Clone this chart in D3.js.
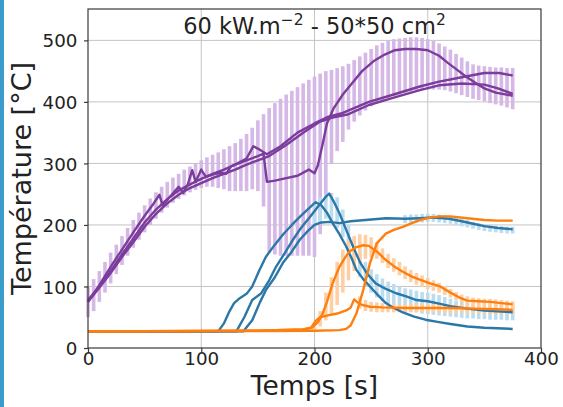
<!DOCTYPE html>
<html>
<head>
<meta charset="utf-8">
<script src="https://cdn.jsdelivr.net/npm/d3@7"></script>
<style>
  body { margin: 0; background: #fff; }
  svg { display: block; font-family: "DejaVu Sans", sans-serif; }
</style>
</head>
<body>
<div id="graph"></div>
<script>
/*--- donnees ---*/

let xTicks = [0, 100, 200, 300, 400]
let yTicks = [0, 100, 200, 300, 400, 500]

// courbes violettes
let p1Time = [0, 10, 20, 30, 40, 50, 58, 63, 66, 72, 80, 84, 88, 92, 95, 100, 104, 110, 118, 122, 126, 132, 140, 146, 152, 158, 170, 185, 200, 211, 225, 248, 270, 293, 310, 330, 350, 363, 375]
let p1Temp = [75, 102, 132, 160, 188, 215, 235, 249, 232, 245, 262, 252, 265, 289, 270, 290, 278, 282, 285, 283, 295, 300, 308, 328, 322, 315, 328, 350, 365, 375, 382, 400, 412, 425, 433, 440, 447, 447, 443]

let p2Time = [0, 10, 20, 30, 40, 50, 60, 70, 80, 90, 100, 110, 120, 130, 140, 150, 155, 158, 165, 175, 185, 195, 200, 203, 207, 211, 217, 225, 233, 242, 252, 262, 271, 280, 290, 300, 310, 318, 326, 334, 342, 350, 360, 375]
let p2Temp = [78, 100, 125, 152, 178, 204, 225, 242, 256, 266, 275, 283, 290, 298, 305, 312, 316, 270, 272, 276, 280, 290, 284, 297, 330, 365, 390, 412, 430, 450, 466, 477, 484, 486, 486, 484, 475, 463, 452, 441, 431, 422, 415, 410]

let p3Time = [0, 10, 20, 30, 40, 50, 60, 70, 80, 90, 100, 110, 120, 130, 140, 150, 160, 175, 190, 205, 215, 230, 248, 270, 293, 310, 330, 350, 362, 375]
let p3Temp = [75, 98, 122, 148, 172, 197, 218, 235, 249, 260, 268, 276, 283, 290, 298, 305, 312, 330, 350, 368, 374, 380, 395, 407, 419, 427, 430, 428, 422, 413]

// courbes bleues
let b1Time = [0, 115, 120, 125, 129, 134, 140, 145, 151, 157, 165, 172, 180, 187, 195, 201, 206, 211, 216, 222, 228, 233, 237, 243, 249, 256, 263, 270, 278, 288, 298, 310, 320, 335, 350, 375]
let b1Temp = [27, 27, 40, 60, 73, 81, 88, 100, 125, 148, 168, 184, 200, 213, 227, 237, 232, 220, 203, 185, 165, 145, 127, 112, 100, 86, 73, 65, 58, 51, 46, 42, 39, 35, 33, 31]

let b2Time = [0, 131, 138, 145, 153, 160, 166, 174, 181, 188, 196, 204, 210, 213, 217, 222, 228, 234, 240, 246, 254, 263, 272, 281, 290, 300, 310, 320, 335, 350, 375]
let b2Temp = [27, 27, 50, 78, 89, 110, 132, 155, 176, 195, 213, 232, 246, 251, 238, 219, 192, 165, 140, 122, 105, 96, 89, 84, 78, 76, 72, 68, 64, 61, 58]

let b3Time = [0, 137, 145, 152, 157, 165, 172, 180, 187, 194, 200, 206, 213, 222, 232, 245, 263, 280, 293, 305, 319, 330, 340, 350, 362, 375]
let b3Temp = [27, 27, 45, 75, 94, 115, 138, 157, 176, 190, 200, 204, 205, 203, 206, 208, 211, 210, 211, 212, 210, 206, 202, 198, 195, 193]

// courbes orange
let o1Time = [0, 150, 190, 198, 203, 207, 211, 216, 222, 227, 231, 237, 243, 248, 255, 263, 270, 278, 286, 293, 302, 311, 320, 328, 335, 345, 355, 365, 375]
let o1Temp = [27, 28, 30, 33, 42, 55, 75, 105, 132, 147, 157, 164, 167, 166, 157, 143, 133, 124, 116, 111, 105, 100, 90, 82, 77, 76, 75, 73, 71]

let o2Time = [0, 150, 190, 197, 201, 205, 212, 220, 228, 232, 235, 238, 242, 249, 260, 280, 300, 320, 340, 360, 375]
let o2Temp = [27, 28, 30, 33, 44, 50, 53, 56, 61, 66, 79, 74, 70, 67, 66, 65, 65, 65, 64, 63, 62]

let o3Time = [0, 200, 222, 228, 232, 237, 243, 249, 255, 263, 270, 278, 286, 293, 300, 310, 320, 335, 350, 362, 375]
let o3Temp = [27, 28, 29, 31, 37, 56, 94, 138, 170, 186, 192, 197, 203, 208, 211, 214, 214, 211, 208, 207, 207]

// barres d'erreur violettes
let pBarTime = [0, 5, 10, 15, 20, 25, 30, 35, 40, 45, 50, 55, 60, 65, 70, 75, 80, 85, 90, 95, 100, 105, 110, 115, 120, 125, 130, 135, 140, 145, 150, 155, 160, 165, 170, 175, 180, 185, 190, 195, 200, 205, 210, 215, 220, 225, 230, 235, 240, 245, 250, 255, 260, 265, 270, 275, 280, 285, 290, 295, 300, 305, 310, 315, 320, 325, 330, 335, 340, 345, 350, 355, 360, 365, 370, 375]
let pBarLow  = [50, 60, 75, 90, 105, 120, 135, 150, 163, 176, 188, 200, 210, 220, 228, 236, 242, 248, 253, 257, 260, 262, 262, 260, 258, 255, 255, 255, 255, 258, 255, 230, 155, 152, 150, 150, 150, 150, 150, 150, 148, 185, 240, 300, 320, 335, 355, 368, 378, 386, 393, 398, 402, 406, 410, 412, 415, 417, 419, 420, 420, 420, 420, 419, 417, 414, 411, 408, 405, 403, 401, 398, 396, 394, 391, 388]
let pBarHigh = [100, 112, 125, 140, 155, 168, 182, 195, 208, 220, 232, 243, 253, 262, 270, 277, 283, 290, 295, 300, 305, 310, 314, 318, 323, 328, 333, 340, 348, 358, 370, 380, 390, 398, 405, 412, 418, 424, 430, 436, 441, 446, 450, 452, 455, 458, 462, 468, 474, 480, 486, 492, 496, 500, 502, 503, 504, 505, 505, 504, 502, 499, 495, 490, 485, 478, 472, 466, 461, 459, 458, 457, 456, 456, 455, 455]

// barres d'erreur bleues
let bBarTime = [200, 205, 210, 215, 220, 225, 230, 235, 240, 245, 250, 255, 260, 265, 270, 275, 280, 285, 290, 295, 300, 305, 310, 315, 320, 325, 330, 335, 340, 345, 350, 355, 360, 365, 370, 375]
let bBarLow  = [200, 205, 210, 205, 195, 180, 160, 135, 115, 100, 90, 82, 76, 72, 68, 65, 62, 60, 58, 56, 55, 54, 53, 52, 51, 50, 49, 48, 48, 47, 47, 46, 46, 46, 45, 45]
let bBarHigh = [238, 245, 250, 252, 245, 225, 200, 178, 158, 140, 128, 120, 113, 108, 104, 100, 97, 95, 93, 91, 90, 88, 86, 83, 80, 77, 75, 73, 71, 70, 68, 67, 66, 65, 65, 64]

let bBar2Time = [280, 285, 290, 295, 300, 305, 310, 315, 320, 325, 330, 335, 340, 345, 350, 355, 360, 365, 370, 375]
let bBar2Low  = [203, 204, 204, 204, 205, 205, 204, 203, 202, 200, 198, 196, 194, 192, 190, 189, 188, 187, 186, 186]
let bBar2High = [216, 217, 217, 218, 218, 218, 217, 216, 214, 212, 210, 208, 205, 203, 201, 200, 199, 198, 197, 197]

// barres d'erreur orange
let oBarTime = [200, 205, 210, 215, 220, 225, 230, 235, 240, 245, 250, 255, 260, 265, 270, 275, 280, 285, 290, 295, 300, 305, 310, 315, 320, 325, 330, 335, 340, 345, 350, 355, 360, 365, 370, 375]
let oBarLow  = [28, 35, 45, 55, 70, 90, 110, 125, 135, 145, 148, 145, 138, 130, 124, 118, 112, 107, 103, 99, 96, 93, 90, 86, 82, 78, 74, 71, 69, 68, 68, 67, 66, 65, 64, 63]
let oBarHigh = [34, 60, 90, 115, 140, 160, 175, 182, 185, 184, 180, 172, 162, 153, 146, 140, 133, 127, 122, 118, 114, 110, 106, 101, 96, 91, 87, 84, 82, 81, 80, 80, 79, 78, 77, 76]

let oBar2Time = [240, 245, 250, 255, 260, 265, 270, 275, 280, 285, 290, 295, 300, 305, 310, 315, 320, 325, 330, 335, 340, 345, 350, 355, 360, 365, 370, 375]
let oBar2Low  = [64, 60, 59, 58, 58, 58, 58, 58, 58, 58, 58, 58, 58, 58, 58, 57, 57, 57, 57, 57, 56, 56, 56, 56, 55, 55, 55, 55]
let oBar2High = [84, 78, 75, 74, 73, 73, 72, 72, 72, 72, 72, 72, 72, 72, 72, 72, 71, 71, 71, 71, 71, 70, 70, 70, 70, 70, 69, 69]

/*--- variables techniques ---*/
let width = 563
let height = 407
let marge = {haut: 9, droite: 22, bas: 59, gauche: 88}

let violet = '#7b3c9c', violetClair = '#d5b8e6'
let bleu = '#2a77a8', bleuClair = '#bcdcf0'
let orange = '#ff7f0e', orangeClair = '#ffcfa4'

let x = d3.scaleLinear().domain([0, 400]).range([marge.gauche, width - marge.droite])
let y = d3.scaleLinear().domain([0, 551]).range([height - marge.bas, marge.haut])

let svg = d3.select('#graph').append('svg')
    .attr('width', width)
    .attr('height', height)

// bande bleue a gauche de l'image
svg.append('rect')
    .attr('x', 0).attr('y', 0)
    .attr('width', 4).attr('height', height)
    .attr('fill', '#3b9ccc')

/*--- grille ---*/
let grille = svg.append('g')
grille.selectAll('line.gx')
    .data(xTicks.slice(1, -1))
    .enter().append('line')
    .attr('x1', d => x(d)).attr('x2', d => x(d))
    .attr('y1', y.range()[0]).attr('y2', y.range()[1])
    .attr('stroke', '#c4c4c4').attr('stroke-width', 1)
grille.selectAll('line.gy')
    .data(yTicks.slice(1))
    .enter().append('line')
    .attr('x1', x.range()[0]).attr('x2', x.range()[1])
    .attr('y1', d => y(d)).attr('y2', d => y(d))
    .attr('stroke', '#c4c4c4').attr('stroke-width', 1)

/*--- barres d'erreur ---*/
function barres(temps, bas, haut, couleur) {
    let donnees = temps.map((t, i) => ({t: t, lo: bas[i], hi: haut[i]}))
    svg.append('g').selectAll('rect')
        .data(donnees)
        .enter().append('rect')
        .attr('x', d => x(d.t) - 1.8)
        .attr('width', 3.6)
        .attr('y', d => y(d.hi))
        .attr('height', d => y(d.lo) - y(d.hi))
        .attr('fill', couleur)
}

barres(pBarTime, pBarLow, pBarHigh, violetClair)
barres(bBarTime, bBarLow, bBarHigh, bleuClair)
barres(bBar2Time, bBar2Low, bBar2High, bleuClair)
barres(oBarTime, oBarLow, oBarHigh, orangeClair)
barres(oBar2Time, oBar2Low, oBar2High, orangeClair)

/*--- courbes ---*/
let ligne = d3.line()
    .x(d => x(d[0]))
    .y(d => y(d[1]))

function courbe(temps, temp, couleur) {
    svg.append('path')
        .datum(temps.map((t, i) => [t, temp[i]]))
        .attr('d', ligne)
        .attr('fill', 'none')
        .attr('stroke', couleur)
        .attr('stroke-width', 2.4)
        .attr('stroke-linejoin', 'round')
}

courbe(p1Time, p1Temp, violet)
courbe(p2Time, p2Temp, violet)
courbe(p3Time, p3Temp, violet)
courbe(b1Time, b1Temp, bleu)
courbe(b2Time, b2Temp, bleu)
courbe(b3Time, b3Temp, bleu)
courbe(o1Time, o1Temp, orange)
courbe(o2Time, o2Temp, orange)
courbe(o3Time, o3Temp, orange)

/*--- cadre et axes ---*/
svg.append('rect')
    .attr('x', x.range()[0]).attr('y', y.range()[1])
    .attr('width', x.range()[1] - x.range()[0])
    .attr('height', y.range()[0] - y.range()[1])
    .attr('fill', 'none')
    .attr('stroke', '#3a3a3a').attr('stroke-width', 1.2)

let axeX = svg.append('g')
    .attr('transform', 'translate(0,' + y.range()[0] + ')')
    .call(d3.axisBottom(x).tickValues(xTicks).tickSize(4).tickPadding(0))
let axeY = svg.append('g')
    .attr('transform', 'translate(' + x.range()[0] + ',0)')
    .call(d3.axisLeft(y).tickValues(yTicks).tickSize(4).tickPadding(6.5))

svg.selectAll('.domain').remove()
svg.selectAll('.tick line').attr('stroke', '#3a3a3a').attr('stroke-width', 1.2)
svg.selectAll('.tick text')
    .attr('fill', '#222')
    .style('font-size', '18.3px')
    .style('font-family', '"DejaVu Sans", sans-serif')
axeY.selectAll('.tick text').attr('dy', '0.36em')

/*--- textes ---*/
svg.append('text')
    .attr('x', (x.range()[0] + x.range()[1]) / 2)
    .attr('y', 395)
    .attr('text-anchor', 'middle')
    .attr('fill', '#222')
    .style('font-size', '26.5px')
    .text('Temps [s]')

svg.append('text')
    .attr('transform', 'translate(31,' + ((y.range()[0] + y.range()[1]) / 2) + ') rotate(-90)')
    .attr('text-anchor', 'middle')
    .attr('fill', '#222')
    .style('font-size', '27px')
    .text('Température [°C]')

let titre = svg.append('text')
    .attr('x', (x.range()[0] + x.range()[1]) / 2)
    .attr('y', 34)
    .attr('text-anchor', 'middle')
    .attr('fill', '#222')
    .style('font-size', '22.5px')
titre.append('tspan').text('60 kW.m')
titre.append('tspan').attr('dy', -9).style('font-size', '15.5px').text('−2')
titre.append('tspan').attr('dy', 9).text(' - 50*50 cm')
titre.append('tspan').attr('dy', -9).style('font-size', '15.5px').text('2')
</script>
</body>
</html>
